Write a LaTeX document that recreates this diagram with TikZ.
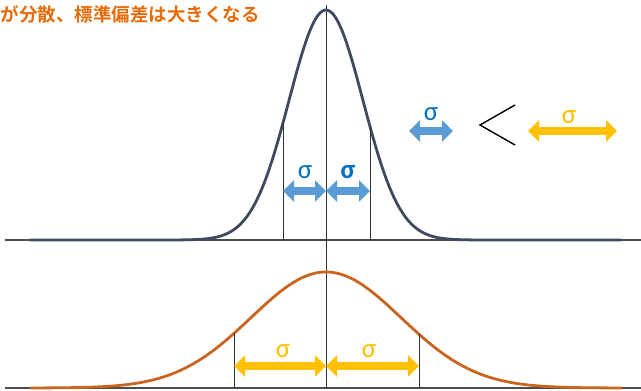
\documentclass[tikz,border=0pt]{standalone}
\usepackage{fontspec}
\setmainfont{Carlito}
\newfontfamily\cjkbold{Noto Sans CJK JP Bold}
\usetikzlibrary{arrows.meta}

\definecolor{curveblue}{HTML}{3E4B5E}
\definecolor{curveorange}{HTML}{C9651E}
\definecolor{arrowblue}{HTML}{5B9BD5}
\definecolor{sigmablue}{HTML}{0070C0}
\definecolor{arroworange}{HTML}{FFC000}
\definecolor{titleorange}{HTML}{E46C0A}

\tikzset{
  axisline/.style={draw=black!70, line width=1.3pt},
  sigmaline/.style={draw=black!80, line width=1pt},
  bellcurve/.style={line width=2.8pt, samples=240},
  blockarrow/.style={line width=8pt,
    {Triangle[width=21pt,length=11pt]}-{Triangle[width=21pt,length=11pt]}},
  bluearrow/.style={blockarrow, draw=arrowblue},
  orangearrow/.style={blockarrow, draw=arroworange},
  sigmalabel/.style={inner sep=0pt, font=\fontsize{27}{27}\selectfont},
}

\begin{document}
\begin{tikzpicture}[x=1pt, y=-1pt,
    declare function={topg(\x)=240-230*exp(-((\x-326)/37)^2/2);
                      botg(\x)=388-116*exp(-((\x-326)/75)^2/2);}]
  \useasboundingbox (0,0) rectangle (641,391);

  % Title
  \node[anchor=west, inner sep=0pt, text=titleorange,
        font=\cjkbold\fontsize{18.5}{19}\selectfont] (title) at (0.5,14)
        {が分散、標準偏差は大きくなる};

  % Axes
  \draw[axisline] (5,240) -- (641,240);
  \draw[axisline] (5,388) -- (641,388);
  \draw[sigmaline] (326,5) -- (326,388);

  % Narrow distribution
  \draw[bellcurve, draw=curveblue, domain=30:622] plot (\x, {topg(\x)});
  \draw[sigmaline] (283,{topg(283)}) -- (283,240);
  \draw[sigmaline] (370,{topg(370)}) -- (370,240);

  % Wide distribution
  \draw[bellcurve, draw=curveorange, domain=30:622] plot (\x, {botg(\x)});
  \draw[sigmaline] (234,{botg(234)}) -- (234,388);
  \draw[sigmaline] (419,{botg(419)}) -- (419,388);

  % Sigma arrows, narrow
  \coordinate (tl) at (283,191);
  \coordinate (tc) at (326,191);
  \coordinate (tr) at (370,191);
  \draw[bluearrow] (tl) -- (tc);
  \draw[bluearrow] (tc) -- (tr);
  \node[sigmalabel, text=sigmablue] (sigtl) at (305,172) {σ};
  \node[sigmalabel, text=sigmablue, font=\bfseries\fontsize{27}{27}\selectfont] (sigtr) at (348,172) {σ};

  % Sigma arrows, wide
  \coordinate (bl) at (234,366);
  \coordinate (bc) at (326,366);
  \coordinate (br) at (419,366);
  \draw[orangearrow] (bl) -- (bc);
  \draw[orangearrow] (bc) -- (br);
  \node[sigmalabel, text=arroworange] (sigbl) at (283,351) {σ};
  \node[sigmalabel, text=arroworange] (sigbr) at (369,351) {σ};

  % Comparison
  \coordinate (cl) at (409,131);
  \coordinate (cr) at (453,131);
  \draw[bluearrow] (cl) -- (cr);
  \node[sigmalabel, text=sigmablue] (sigcb) at (431,114) {σ};
  \draw[black, line width=1.4pt] (515,105) -- (480,125) -- (515,145);
  \coordinate (ol) at (528,131);
  \coordinate (or) at (617,131);
  \draw[orangearrow] (ol) -- (or);
  \node[sigmalabel, text=arroworange] (sigco) at (569,117) {σ};
\end{tikzpicture}
\end{document}
